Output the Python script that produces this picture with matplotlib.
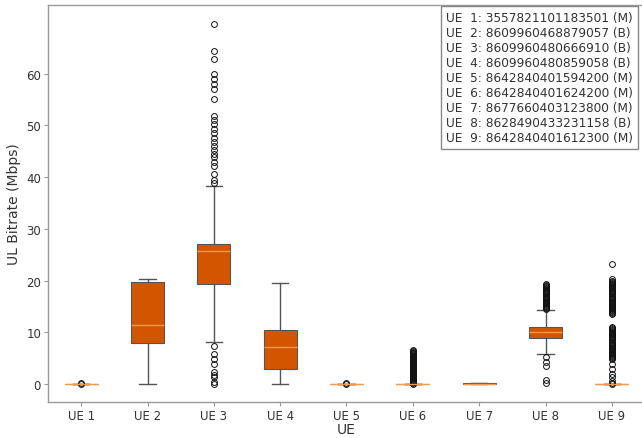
import matplotlib
matplotlib.use("Agg")
import matplotlib.pyplot as plt

# Per-UE box statistics (Mbps)
ue_labels = ["UE 1", "UE 2", "UE 3", "UE 4", "UE 5", "UE 6", "UE 7", "UE 8", "UE 9"]
whislo = [0.0, 0.0, 8.1, 0.0, 0.0, 0.0, 0.0, 5.8, 0.0]
q1 = [0.0, 8.0, 19.3, 2.9, 0.0, 0.0, 0.0, 8.8, 0.0]
med = [0.0, 11.3, 25.7, 7.2, 0.0, 0.0, 0.0, 10.0, 0.0]
q3 = [0.0, 19.7, 27.0, 10.4, 0.0, 0.0, 0.1, 11.1, 0.0]
whishi = [0.0, 20.2, 38.2, 19.6, 0.0, 0.0, 0.2, 14.3, 0.0]

fliers_ue1 = [0.0, 0.1]
fliers_ue2 = []
fliers_ue3 = [0.0, 0.3, 1.3, 1.7, 2.3, 3.9, 4.8, 5.8, 7.3,
              38.9, 39.5, 40.6, 42.2, 43.0, 43.8, 44.5, 45.2, 46.0, 46.8,
              47.5, 48.5, 49.4, 50.3, 51.0, 51.8, 55.1, 57.1, 58.1, 59.0,
              60.0, 62.9, 64.4, 69.6]
fliers_ue4 = []
fliers_ue5 = [0.0, 0.1]
fliers_ue6 = [0.05, 0.2, 0.35, 0.5, 0.65, 0.8, 0.95, 1.1, 1.25, 1.4, 1.55,
              1.7, 1.85, 2.0, 2.15, 2.3, 2.45, 2.6, 2.75, 2.9, 3.05, 3.2,
              3.35, 3.5, 3.65, 3.8, 3.95, 4.1, 4.25, 4.4, 4.55, 4.7, 4.85,
              5.0, 5.15, 5.3, 5.45, 5.6, 5.75, 5.9, 6.05, 6.2, 6.35, 6.5]
fliers_ue7 = []
fliers_ue8 = [0.1, 0.8, 3.5, 4.2, 5.3,
              14.5, 14.7, 14.9, 15.1, 15.3, 15.5, 15.7, 15.9, 16.1, 16.3,
              16.5, 16.7, 16.9, 17.1, 17.3, 17.5, 17.7, 17.9, 18.1, 18.3,
              18.5, 18.7, 18.9, 19.1, 19.3]
fliers_ue9 = [0.0, 0.1, 0.6, 1.4, 1.9, 2.9, 3.9,
              4.8, 5.0, 5.2, 5.4, 5.6, 5.8, 6.0, 6.2, 6.4, 6.6, 6.8, 7.0,
              7.2, 7.4, 7.6, 7.8, 8.0, 8.2, 8.4, 8.6, 8.8, 9.0, 9.2, 9.4,
              9.6, 9.8, 10.0, 10.2, 10.4, 10.6, 10.8, 11.0,
              13.5, 13.7, 13.9, 14.1, 14.3, 14.5, 14.7, 14.9, 15.1, 15.3,
              15.5, 15.7, 15.9, 16.1, 16.3, 16.5, 16.7, 16.9, 17.1, 17.3,
              17.6, 17.8, 18.0, 18.2, 18.4, 18.6, 18.8, 19.0, 19.2, 19.4,
              19.6, 19.8, 20.0, 20.3, 23.2]
fliers = [fliers_ue1, fliers_ue2, fliers_ue3, fliers_ue4, fliers_ue5,
          fliers_ue6, fliers_ue7, fliers_ue8, fliers_ue9]

legend_lines = [
    "UE  1: 3557821101183501 (M)",
    "UE  2: 8609960468879057 (B)",
    "UE  3: 8609960480666910 (B)",
    "UE  4: 8609960480859058 (B)",
    "UE  5: 8642840401594200 (M)",
    "UE  6: 8642840401624200 (M)",
    "UE  7: 8677660403123800 (M)",
    "UE  8: 8628490433231158 (B)",
    "UE  9: 8642840401612300 (M)",
]

TEXT = "#333333"
SPINE = "#999999"

stats = []
for i, lab in enumerate(ue_labels):
    stats.append({
        "label": lab, "whislo": whislo[i], "q1": q1[i], "med": med[i],
        "q3": q3[i], "whishi": whishi[i], "fliers": fliers[i],
    })

fig = plt.figure(figsize=(6.42, 4.39), dpi=100)
ax = fig.add_axes([48 / 642, 36 / 439, 597 / 642, 397 / 439])

ax.bxp(stats, patch_artist=True, widths=0.5,
       boxprops=dict(facecolor="#d45500", edgecolor="#555555", linewidth=0.8),
       whiskerprops=dict(color="#555555", linewidth=1.0),
       capprops=dict(color="#555555", linewidth=1.0),
       medianprops=dict(color="#f09a50", linewidth=1.0),
       flierprops=dict(marker="o", markersize=4.2, markerfacecolor="none",
                       markeredgecolor="#111111", markeredgewidth=0.7))

ax.set_xlim(0.5, 9.5)
ax.set_ylim(-3.5, 73.3)
ax.set_yticks([0, 10, 20, 30, 40, 50, 60])
ax.set_xlabel("UE", fontsize=10, color=TEXT, labelpad=0)
ax.set_ylabel("UL Bitrate (Mbps)", fontsize=10, color=TEXT, labelpad=4)
ax.tick_params(labelsize=8.5, colors=TEXT, length=3, width=0.8, pad=2)
ax.tick_params(color=SPINE)
for s in ax.spines.values():
    s.set_color(SPINE)
    s.set_linewidth(1.0)

fig.text(446 / 642, 1 - 12 / 439, "\n".join(legend_lines), ha="left", va="top",
         multialignment="left", fontsize=8.7, color=TEXT, linespacing=1.2,
         bbox=dict(boxstyle="square,pad=0.4", facecolor="white",
                   edgecolor="#888888", linewidth=1.0))

fig.savefig("out.png", dpi=100)
